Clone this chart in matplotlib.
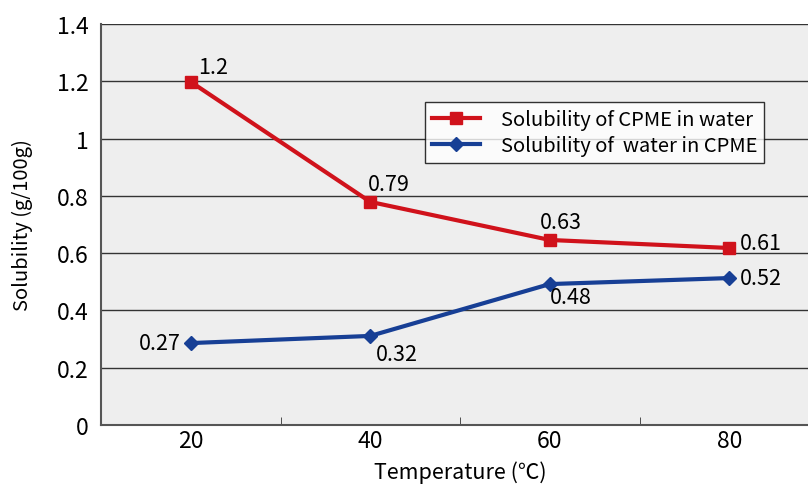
import matplotlib.pyplot as plt
import numpy as np

plt.rcParams['font.family'] = ['Noto Sans CJK JP', 'DejaVu Sans']

temps = ['20', '40', '60', '80']
cpme_in_water = [1.198, 0.779, 0.646, 0.618]
water_in_cpme = [0.286, 0.311, 0.492, 0.513]
cpme_labels = ['1.2', '0.79', '0.63', '0.61']
water_labels = ['0.27', '0.32', '0.48', '0.52']

red = '#d0121b'
blue = '#173f95'

fig = plt.figure(figsize=(8.08, 4.85), dpi=100)
W, H = 808, 485
ax = fig.add_axes([101 / W, 1 - 426 / H, (819 - 101) / W, (426 - 25) / H])
ax.set_facecolor('#eeeeee')

x = np.arange(len(temps))
ax.plot(x, cpme_in_water, color=red, lw=3, marker='s', ms=9,
        label='Solubility of CPME in water', zorder=3)
ax.plot(x, water_in_cpme, color=blue, lw=3, marker='D', ms=7,
        label='Solubility of  water in CPME', zorder=3)

# data labels (offsets in points)
red_off = [(5, 3), (-2, 5), (-7, 5), (8, -4)]
blue_off = [(-7, -8), (4, -21), (0, -17), (8, -8)]
blue_ha = ['right', 'left', 'left', 'left']
for i in range(len(temps)):
    ax.annotate(cpme_labels[i], (x[i], cpme_in_water[i]), xytext=red_off[i],
                textcoords='offset points', fontsize=15.5, va='bottom', ha='left')
    ax.annotate(water_labels[i], (x[i], water_in_cpme[i]), xytext=blue_off[i],
                textcoords='offset points', fontsize=15.5, va='bottom', ha=blue_ha[i])

ax.set_xlim(-0.5, 3.5)
ax.set_ylim(0, 1.4)
ax.set_yticks(np.arange(0, 1.41, 0.2))
ax.set_yticklabels(['0', '0.2', '0.4', '0.6', '0.8', '1', '1.2', '1.4'])
ax.set_xticks(x)
ax.set_xticklabels(temps)
ax.set_xticks(x[:-1] + 0.5, minor=True)
ax.tick_params(axis='x', which='major', length=0, labelsize=16.5, pad=3)
ax.tick_params(axis='x', which='minor', direction='in', length=6, color='#333333')
ax.tick_params(axis='y', length=0, labelsize=16.5, pad=9)
ax.grid(axis='y', color='#333333', lw=1)
ax.set_axisbelow(True)
for s in ['top', 'right']:
    ax.spines[s].set_visible(False)
for s in ['left', 'bottom']:
    ax.spines[s].set_color('#555555')
    ax.spines[s].set_linewidth(1.5)

ax.set_xlabel('Temperature (℃)', fontsize=15.5, labelpad=6)
ax.set_ylabel('Solubility (g/100g)', fontsize=14.5, labelpad=17)

leg = ax.legend(loc='upper left', bbox_to_anchor=((425 - 101) / (819 - 101), 1 - (103 - 25) / (426 - 25)),
                borderaxespad=0, fontsize=14.5, frameon=True, fancybox=False, edgecolor='black',
                handlelength=2.4, borderpad=0.35, labelspacing=0.25, handletextpad=1.0)
leg.get_frame().set_linewidth(1)
leg.get_frame().set_facecolor('white')

fig.savefig('out.png', dpi=100)
